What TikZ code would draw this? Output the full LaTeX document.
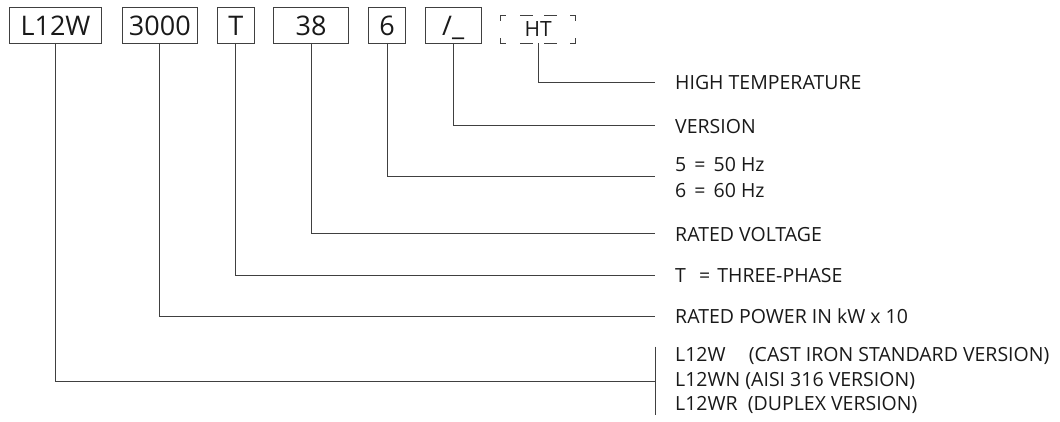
\documentclass[tikz,border=0pt]{standalone}
\usepackage{fontspec}
\setmainfont{Open Sans}
\definecolor{lc}{gray}{0.25}
\definecolor{tc}{gray}{0.1}
\begin{document}
\begin{tikzpicture}[x=1pt,y=-1pt,
  ln/.style={draw=lc, line width=0.9pt},
  codebox/.style={draw=lc, line width=0.9pt, minimum height=36pt, inner sep=0pt, outer sep=0pt,
    font=\fontsize{27}{27}\selectfont, text=tc, text height=22pt, text depth=0pt},
  lbl/.style={anchor=base west, inner sep=0pt, font=\fontsize{19.5}{19.5}\selectfont, text=tc}]
\useasboundingbox (0,0) rectangle (1060,422);
% code boxes
\node[codebox, minimum width=92.4pt] (bL) at (55.5,25) {L12W};
\node[codebox, minimum width=74.6pt] (bP) at (159.8,25) {3000};
\node[codebox, minimum width=36.4pt] (bT) at (235.8,25) {T};
\node[codebox, minimum width=74.7pt] (bV) at (311,25) {38};
\node[codebox, minimum width=36.7pt] (bF) at (387.2,25) {6};
\node[codebox, minimum width=55.8pt] (bS) at (453.2,25) {/\_};
\node[minimum width=75pt, minimum height=27.6pt, inner sep=0pt, outer sep=0pt,
  font=\fontsize{21}{21}\selectfont, text=tc, text height=15pt, text depth=0pt] (bH) at (538.2,29.5) {HT};
% dashed outline of HT
\draw[ln, line cap=rect, dash pattern=on 5pt off 15pt on 12pt off 12pt on 12pt off 14pt on 5pt] (bH.north west) -- (bH.north east);
\draw[ln, line cap=rect, dash pattern=on 5pt off 15pt on 12pt off 12pt on 12pt off 14pt on 5pt] (bH.south west) -- (bH.south east);
\draw[ln, line cap=rect, dash pattern=on 5pt off 17.6pt on 5pt] (bH.north west) -- (bH.south west);
\draw[ln, line cap=rect, dash pattern=on 5pt off 17.6pt on 5pt] (bH.north east) -- (bH.south east);
% line ends
\coordinate (eH) at (655,82.3);
\coordinate (eS) at (655,125.7);
\coordinate (eF) at (655,176.7);
\coordinate (eV) at (655,233.7);
\coordinate (eT) at (655,275.7);
\coordinate (eP) at (655,316);
\coordinate (eL) at (655,381.3);
\coordinate (kT) at (655,346.7);
\coordinate (kB) at (655,415);
% connectors
\draw[ln] (bH.south) |- (eH);
\draw[ln] (bS.south) |- (eS);
\draw[ln] (bF.south) |- (eF);
\draw[ln] (bV.south) |- (eV);
\draw[ln] (bT.south) |- (eT);
\draw[ln] (bP.south) |- (eP);
\draw[ln] (bL.south) |- (eL);
\draw[ln] (kT) -- (kB);
% labels
\node[lbl] (tH) at (675,89.3) {HIGH TEMPERATURE};
\node[lbl] (tS) at (675,133.3) {VERSION};
\node[lbl] (tF1) at (675,171.7) {5\hspace{3pt} = \hspace{3pt}50 Hz};
\node[lbl] (tF2) at (675,197.3) {6\hspace{3pt} = \hspace{3pt}60 Hz};
\node[lbl] (tV) at (675,241) {RATED VOLTAGE};
\node[lbl] (tT) at (675,282.5) {T\ \hspace{3pt} = \hspace{2pt}THREE-PHASE};
\node[lbl] (tP) at (675,323.3) {RATED POWER IN kW x 10};
\node[lbl] (tL1) at (675,361) {L12W\ \ \ \ \hspace{3pt}(CAST IRON STANDARD VERSION)};
\node[lbl] (tL2) at (675,386.7) {L12WN (AISI 316 VERSION)};
\node[lbl] (tL3) at (675,410.7) {L12WR\ \ (DUPLEX VERSION)};
\end{tikzpicture}
\end{document}
